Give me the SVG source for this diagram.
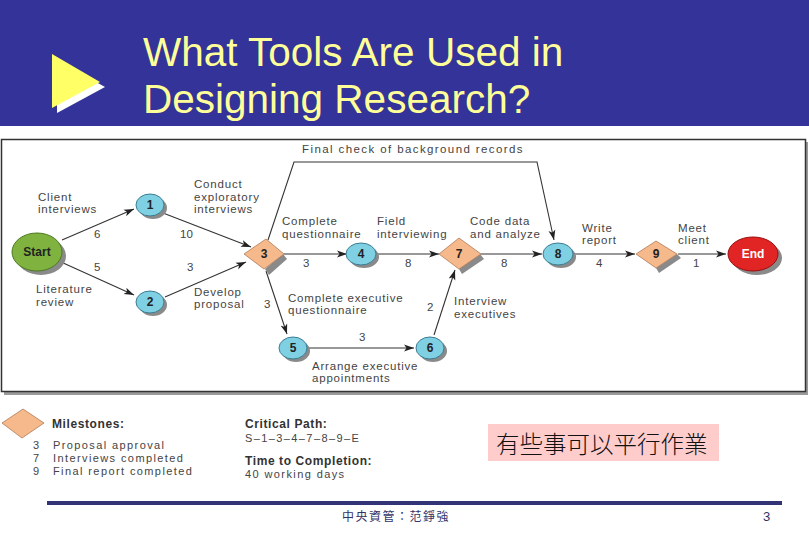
<svg xmlns="http://www.w3.org/2000/svg" width="809" height="539" viewBox="0 0 809 539">
<style>
.t{font-family:"Liberation Sans",Arial,sans-serif;font-size:11.5px;fill:#444;letter-spacing:0.8px}
.n{font-family:"Liberation Sans",Arial,sans-serif;font-size:11.5px;fill:#444}
.lg{font-family:"Liberation Sans",Arial,sans-serif;font-size:11px;fill:#444;letter-spacing:1.4px}
.lb{font-family:"Liberation Sans",Arial,sans-serif;font-size:12px;font-weight:bold;fill:#333;letter-spacing:0.6px}
.blue{fill:#80d0e4;stroke:#3c7d92;stroke-width:1}
.dia{fill:#f6b98b;stroke:#b07a55;stroke-width:0.8}
.sh{fill:#8a8a8a}
.num{font-family:"Liberation Sans",Arial,sans-serif;font-size:12px;font-weight:bold;fill:#222;text-anchor:middle}
.edge{fill:none;stroke:#333;stroke-width:1.1}
.title{font-family:"Liberation Sans",Arial,sans-serif;font-size:40.5px;fill:#FFFF99}
</style>
<defs>
<marker id="ah" markerUnits="userSpaceOnUse" markerWidth="11" markerHeight="8" refX="10" refY="4" orient="auto">
<path d="M0,0.5 L10,4 L0,7.5 L2.5,4 z" fill="#222"/>
</marker>
</defs>
<rect x="0" y="0" width="809" height="539" fill="#ffffff"/>
<g id="header">
<rect x="0" y="0" width="809" height="126" fill="#333399"/>
<polygon points="57,60 105,87 57,113" fill="#ffffff"/>
<polygon points="52,54 100,82 52,108" fill="#FFFF66"/>
<text class="title" x="143" y="66">What Tools Are Used in</text>
<text class="title" x="143" y="113">Designing Research?</text>
</g>
<g id="frame">
<rect x="4" y="142" width="804" height="253" fill="#9a9a9a"/>
<rect x="1.5" y="139.5" width="804" height="252" fill="#ffffff" stroke="#333" stroke-width="1.5"/>
</g>
<g id="connectors">
<path class="edge" d="M62,240 L134,209" marker-end="url(#ah)"/>
<path class="edge" d="M163,213 L251,247" marker-end="url(#ah)"/>
<path class="edge" d="M61,262 L134,295" marker-end="url(#ah)"/>
<path class="edge" d="M165,297 L246,262" marker-end="url(#ah)"/>
<path class="edge" d="M284,254 L347,254" marker-end="url(#ah)"/>
<path class="edge" d="M376,254 L439,254" marker-end="url(#ah)"/>
<path class="edge" d="M481,254 L542,254" marker-end="url(#ah)"/>
<path class="edge" d="M573,254 L635,254" marker-end="url(#ah)"/>
<path class="edge" d="M678,254 L726,254" marker-end="url(#ah)"/>
<path class="edge" d="M268,240 L294,162 L537,162 L554,240" marker-end="url(#ah)"/>
<path class="edge" d="M266,271 L287,334" marker-end="url(#ah)"/>
<path class="edge" d="M308,348 L414,348" marker-end="url(#ah)"/>
<path class="edge" d="M434,335 L455,270" marker-end="url(#ah)"/>
</g>
<g id="edge-labels">
<text class="t" x="302" y="153" style="letter-spacing:1.4px">Final check of background records</text>
<text class="t" x="38" y="201">Client</text>
<text class="t" x="38" y="213">interviews</text>
<text class="n" x="94" y="238">6</text>
<text class="t" x="194" y="188">Conduct</text>
<text class="t" x="194" y="201">exploratory</text>
<text class="t" x="194" y="213">interviews</text>
<text class="n" x="180" y="238">10</text>
<text class="n" x="94" y="271">5</text>
<text class="t" x="36" y="293">Literature</text>
<text class="t" x="36" y="306">review</text>
<text class="n" x="187" y="271">3</text>
<text class="t" x="194" y="296">Develop</text>
<text class="t" x="194" y="308">proposal</text>
<text class="n" x="264" y="308">3</text>
<text class="t" x="282" y="225">Complete</text>
<text class="t" x="282" y="238">questionnaire</text>
<text class="n" x="303" y="267">3</text>
<text class="t" x="377" y="225">Field</text>
<text class="t" x="377" y="238">interviewing</text>
<text class="n" x="405" y="267">8</text>
<text class="t" x="470" y="225">Code data</text>
<text class="t" x="470" y="238">and analyze</text>
<text class="n" x="501" y="267">8</text>
<text class="t" x="582" y="232">Write</text>
<text class="t" x="582" y="244">report</text>
<text class="n" x="596" y="267">4</text>
<text class="t" x="678" y="232">Meet</text>
<text class="t" x="678" y="244">client</text>
<text class="n" x="693" y="267">1</text>
<text class="t" x="288" y="302">Complete executive</text>
<text class="t" x="288" y="314">questionnaire</text>
<text class="n" x="359" y="341">3</text>
<text class="t" x="312" y="370">Arrange executive</text>
<text class="t" x="312" y="382">appointments</text>
<text class="n" x="427" y="311">2</text>
<text class="t" x="454" y="305">Interview</text>
<text class="t" x="454" y="318">executives</text>
</g>
<g id="node-start">
<ellipse cx="41" cy="256" rx="25" ry="19" class="sh"/>
<ellipse cx="37" cy="252" rx="25" ry="19" fill="#7fb23e" stroke="#4d7a22" stroke-width="1"/>
<text x="37" y="256" font-family="Liberation Sans,Arial,sans-serif" font-size="12" font-weight="bold" fill="#222" text-anchor="middle">Start</text>
</g>
<g id="node-1">
<ellipse cx="153" cy="208" rx="14" ry="11" class="sh"/>
<ellipse cx="150" cy="205" rx="14" ry="11" class="blue"/>
<text class="num" x="150" y="209">1</text>
</g>
<g id="node-2">
<ellipse cx="153" cy="305" rx="14" ry="11" class="sh"/>
<ellipse cx="150" cy="302" rx="14" ry="11" class="blue"/>
<text class="num" x="150" y="306">2</text>
</g>
<g id="node-3">
<polygon points="283,254 287,259 269,275 265,269" class="sh"/>
<polygon points="244,254 266,239 284,254 264,269" class="dia"/>
<text class="num" x="264" y="258">3</text>
</g>
<g id="node-4">
<ellipse cx="364" cy="257" rx="15" ry="11" class="sh"/>
<ellipse cx="361" cy="254" rx="15" ry="11" class="blue"/>
<text class="num" x="361" y="258">4</text>
</g>
<g id="node-7">
<polygon points="480,254 484,259 462,274 459,269" class="sh"/>
<polygon points="439,254 459,238 481,254 459,269" class="dia"/>
<text class="num" x="459" y="258">7</text>
</g>
<g id="node-8">
<ellipse cx="561" cy="257" rx="15" ry="11" class="sh"/>
<ellipse cx="558" cy="254" rx="15" ry="11" class="blue"/>
<text class="num" x="558" y="258">8</text>
</g>
<g id="node-9">
<polygon points="677,254 681,258 659,273 656,268" class="sh"/>
<polygon points="636,254 656,241 677,254 656,268" class="dia"/>
<text class="num" x="656" y="258">9</text>
</g>
<g id="node-end">
<ellipse cx="757" cy="258" rx="25" ry="17" class="sh"/>
<ellipse cx="753" cy="254" rx="25" ry="17" fill="#e12424" stroke="#9a1010" stroke-width="1"/>
<text x="753" y="258" font-family="Liberation Sans,Arial,sans-serif" font-size="12" font-weight="bold" fill="#ffffff" text-anchor="middle">End</text>
</g>
<g id="node-5">
<ellipse cx="296" cy="351" rx="14" ry="11" class="sh"/>
<ellipse cx="293" cy="348" rx="14" ry="11" class="blue"/>
<text class="num" x="293" y="352">5</text>
</g>
<g id="node-6">
<ellipse cx="433" cy="351" rx="14" ry="11" class="sh"/>
<ellipse cx="430" cy="348" rx="14" ry="11" class="blue"/>
<text class="num" x="430" y="352">6</text>
</g>
<g id="legend">
<polygon points="2,423 23,409 44,423 22,438" class="dia"/>
<text class="lb" x="52" y="428">Milestones:</text>
<text class="lg" x="33" y="449">3</text>
<text class="lg" x="53" y="449">Proposal approval</text>
<text class="lg" x="33" y="462">7</text>
<text class="lg" x="53" y="462">Interviews completed</text>
<text class="lg" x="33" y="475">9</text>
<text class="lg" x="53" y="475">Final report completed</text>
<text class="lb" x="245" y="428">Critical Path:</text>
<text class="lg" x="245" y="442">S–1–3–4–7–8–9–E</text>
<text class="lb" x="245" y="465">Time to Completion:</text>
<text class="lg" x="245" y="478">40 working days</text>
</g>
<g id="note">
<rect x="488" y="424" width="231" height="37" fill="#ffcccc"/>
<text x="496" y="453" font-family="'Noto Sans CJK TC','Noto Sans CJK SC',sans-serif" font-size="23.5" font-weight="300" fill="#111">有些事可以平行作業</text>
</g>
<g id="footer">
<rect x="47" y="501" width="735" height="4" fill="#333377"/>
<text x="342" y="521" font-family="'Noto Sans CJK TC','Noto Sans CJK SC',sans-serif" font-size="12" letter-spacing="1.5" fill="#333366">中央資管：范錚強</text>
<text x="763" y="521" font-family="Liberation Sans,Arial,sans-serif" font-size="13" fill="#333366">3</text>
</g>
</svg>
